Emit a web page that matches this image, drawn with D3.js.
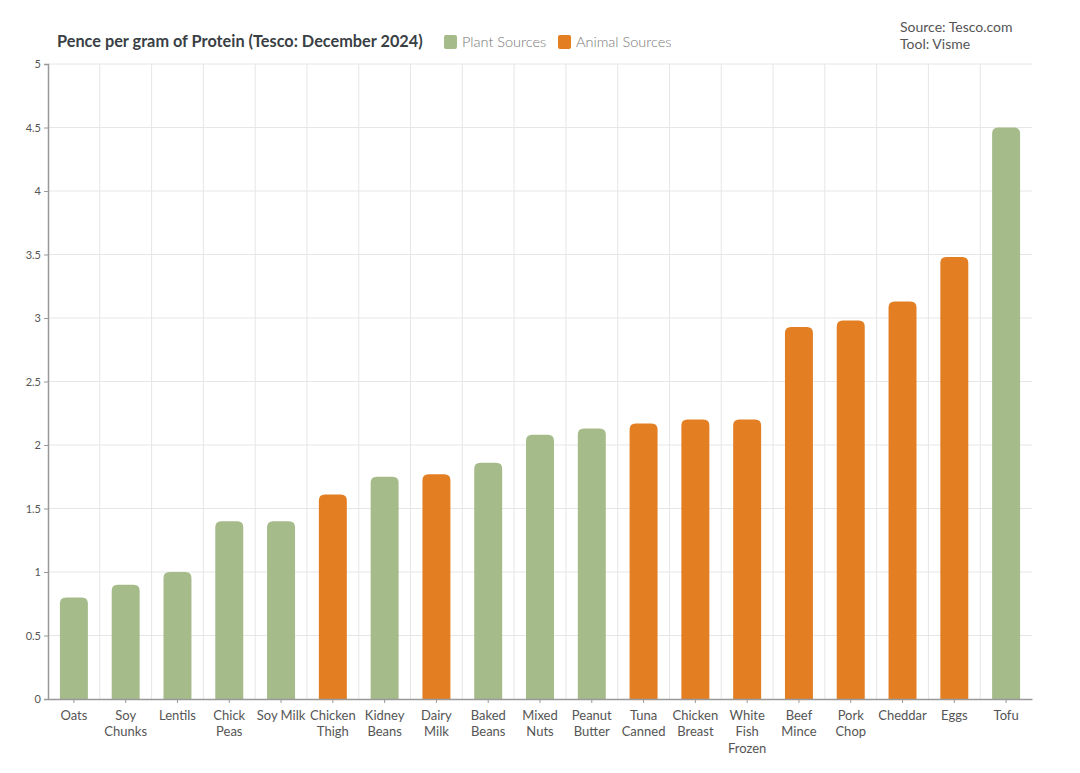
<!DOCTYPE html>
<html>
<head>
<meta charset="utf-8">
<script src="https://cdn.jsdelivr.net/npm/d3@7"></script>
<style>
  body { margin: 0; background: #fff; font-family: Lato, "Noto Sans", sans-serif; }
  .axis path, .axis line { stroke: #999; }
  .axis text { fill: #555; font-family: Lato, sans-serif; }
</style>
</head>
<body>
<svg id="chart" width="1080" height="773"></svg>
<script>
// data
var categories = ["Oats", "Soy Chunks", "Lentils", "Chick Peas", "Soy Milk", "Chicken Thigh",
    "Kidney Beans", "Dairy Milk", "Baked Beans", "Mixed Nuts", "Peanut Butter", "Tuna Canned",
    "Chicken Breast", "White Fish Frozen", "Beef Mince", "Pork Chop", "Cheddar", "Eggs", "Tofu"];
var values = [0.8, 0.9, 1.0, 1.4, 1.4, 1.61, 1.75, 1.77, 1.86, 2.08, 2.13, 2.17, 2.2, 2.2,
    2.93, 2.98, 3.13, 3.48, 4.5];
var groups = ["Plant", "Plant", "Plant", "Plant", "Plant", "Animal", "Plant", "Animal", "Plant",
    "Plant", "Plant", "Animal", "Animal", "Animal", "Animal", "Animal", "Animal", "Animal", "Plant"];
var legendNames = ["Plant Sources", "Animal Sources"];
var yTicks = [0, 0.5, 1, 1.5, 2, 2.5, 3, 3.5, 4, 4.5, 5];

var colors = { Plant: "#a5bb8a", Animal: "#e37e22" };

var svg = d3.select("#chart"),
    margin = { top: 64, right: 48, bottom: 74, left: 48 },
    width = +svg.attr("width") - margin.left - margin.right,
    height = +svg.attr("height") - margin.top - margin.bottom;

var data = categories.map(function (c, i) {
    return { name: c, value: values[i], group: groups[i] };
});

var x = d3.scaleBand().domain(categories).range([0, width])
    .paddingInner(0.46).paddingOuter(0.23);
var y = d3.scaleLinear().domain([0, 5]).range([height, 0]);

var g = svg.append("g")
    .attr("transform", "translate(" + margin.left + "," + margin.top + ")");

// horizontal gridlines
g.selectAll(".hgrid")
    .data(yTicks.slice(1))
    .enter().append("line")
    .attr("class", "hgrid")
    .attr("x1", 0).attr("x2", width)
    .attr("y1", function (d) { return y(d); })
    .attr("y2", function (d) { return y(d); })
    .attr("stroke", "#e6e6e6");

// vertical gridlines at band edges
g.selectAll(".vgrid")
    .data(categories.slice(1))
    .enter().append("line")
    .attr("class", "vgrid")
    .attr("x1", function (d) { return x(d) - x.step() * x.paddingInner() / 2; })
    .attr("x2", function (d) { return x(d) - x.step() * x.paddingInner() / 2; })
    .attr("y1", 0).attr("y2", height)
    .attr("stroke", "#e6e6e6");

// bars with rounded tops
function barPath(d) {
    var x0 = x(d.name), w = x.bandwidth(), y0 = y(d.value), yb = y(0), r = 6;
    return "M" + x0 + "," + yb +
        "V" + (y0 + r) +
        "Q" + x0 + "," + y0 + " " + (x0 + r) + "," + y0 +
        "H" + (x0 + w - r) +
        "Q" + (x0 + w) + "," + y0 + " " + (x0 + w) + "," + (y0 + r) +
        "V" + yb + "Z";
}

g.selectAll(".bar")
    .data(data)
    .enter().append("path")
    .attr("class", "bar")
    .attr("d", barPath)
    .attr("fill", function (d) { return colors[d.group]; });

// y axis
var yAxis = g.append("g")
    .attr("class", "axis axis--y")
    .call(d3.axisLeft(y).tickValues(yTicks).tickSize(4).tickFormat(d3.format("")));
yAxis.select(".domain").attr("stroke", "#999").attr("stroke-width", 1.5);
yAxis.selectAll("text").style("font-size", "11px").attr("x", -7);

// x axis
var xAxis = g.append("g")
    .attr("class", "axis axis--x")
    .attr("transform", "translate(0," + height + ")")
    .call(d3.axisBottom(x).tickSize(4).tickSizeOuter(0));
xAxis.select(".domain").attr("stroke", "#999").attr("stroke-width", 1.5);
xAxis.selectAll("text")
    .style("font-size", "13px")
    .attr("fill", "#5a5a5a")
    .attr("y", 12)
    .call(wrap, 52);

function wrap(texts, maxW) {
    texts.each(function () {
        var text = d3.select(this),
            words = text.text().split(" "),
            line = [],
            lineNo = 0,
            yy = text.attr("y");
        text.text(null);
        var tspan = text.append("tspan").attr("x", 0).attr("y", yy).attr("dy", "0.71em");
        words.forEach(function (w) {
            line.push(w);
            tspan.text(line.join(" "));
            if (line.length > 1 && tspan.node().getComputedTextLength() > maxW) {
                line.pop();
                tspan.text(line.join(" "));
                line = [w];
                lineNo++;
                tspan = text.append("tspan").attr("x", 0).attr("y", yy)
                    .attr("dy", (0.71 + lineNo * 1.25) + "em").text(w);
            }
        });
    });
}

// title
svg.append("text")
    .attr("x", 57).attr("y", 47)
    .style("font-family", "Lato, sans-serif")
    .style("font-size", "16.3px")
    .style("font-weight", "bold")
    .attr("fill", "#3a3f45")
    .text("Pence per gram of Protein (Tesco: December 2024)");

// legend
var legend = svg.selectAll(".legend")
    .data(legendNames)
    .enter().append("g")
    .attr("class", "legend")
    .attr("transform", function (d, i) { return "translate(" + (444 + i * 114) + ",35)"; });
legend.append("rect")
    .attr("width", 13).attr("height", 14).attr("rx", 2)
    .attr("fill", function (d, i) { return i === 0 ? colors.Plant : colors.Animal; });
legend.append("text")
    .attr("x", 18).attr("y", 12)
    .style("font-size", "14.5px")
    .style("font-weight", 300)
    .attr("fill", "#777")
    .text(function (d) { return d; });

// source note
svg.append("text")
    .attr("x", 900).attr("y", 32)
    .style("font-size", "14px").attr("fill", "#555")
    .text("Source: Tesco.com");
svg.append("text")
    .attr("x", 900).attr("y", 49)
    .style("font-size", "14px").attr("fill", "#555")
    .text("Tool: Visme");
</script>
</body>
</html>
